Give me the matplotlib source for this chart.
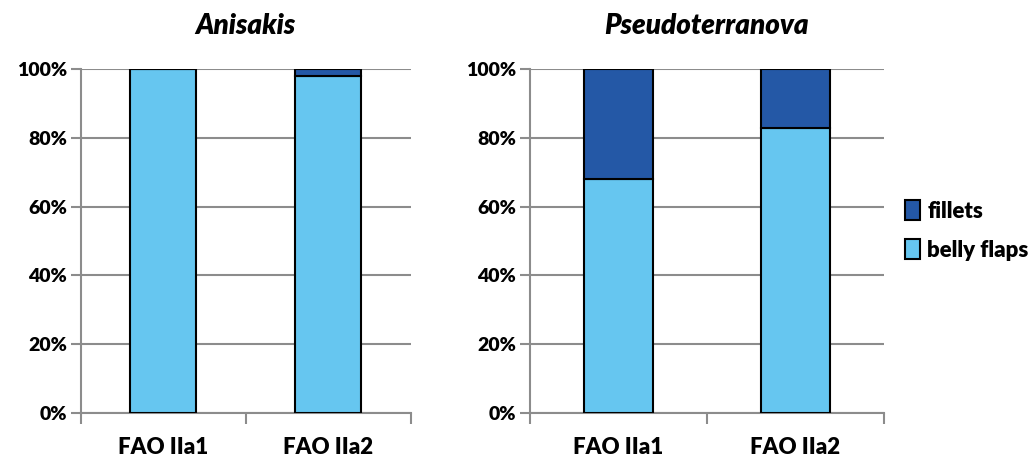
import matplotlib.pyplot as plt
from matplotlib.ticker import PercentFormatter

# data (percent of larvae)
regions = ['FAO IIa1', 'FAO IIa2']
anisakis_belly = [100, 98]
anisakis_fillets = [0, 2]
pseudo_belly = [68, 83]
pseudo_fillets = [32, 17]

light_blue = '#66C6F0'
dark_blue = '#2458A6'
grid_grey = '#8C8C8C'

plt.rcParams['font.family'] = ['Lato', 'DejaVu Sans']
plt.rcParams['font.weight'] = 'bold'

fig = plt.figure(figsize=(10.35, 4.61), dpi=100)
ax1 = fig.add_axes([0.078, 0.104, 0.319, 0.746])
ax2 = fig.add_axes([0.512, 0.104, 0.342, 0.746])


def draw_panel(ax, belly, fillets, title, width):
    x = range(len(regions))
    ax.bar(x, belly, width=width, color=light_blue, edgecolor='black',
           linewidth=1.5, zorder=3, label='belly flaps')
    ax.bar(x, fillets, bottom=belly, width=width, color=dark_blue,
           edgecolor='black', linewidth=1.5, zorder=3, label='fillets')
    ax.set_ylim(0, 100)
    ax.set_xlim(-0.5, 1.5)
    ax.set_yticks(range(0, 101, 20))
    ax.yaxis.set_major_formatter(PercentFormatter(decimals=0))
    ax.grid(axis='y', color=grid_grey, linewidth=1.5, zorder=0)
    ax.set_axisbelow(True)
    ax.set_xticks([-0.5, 0.5, 1.5])
    ax.set_xticklabels([])
    ax.set_xticks(list(x), minor=True)
    ax.set_xticklabels(regions, minor=True, fontsize=16, fontweight='heavy')
    ax.tick_params(axis='x', which='minor', length=0, pad=17)
    ax.tick_params(axis='x', which='major', length=8, width=1.5, color=grid_grey)
    ax.tick_params(axis='y', length=7, width=1.5, color=grid_grey, labelsize=14, pad=3)
    for lbl in ax.get_yticklabels():
        lbl.set_fontweight('heavy')
    for side in ['top', 'right']:
        ax.spines[side].set_visible(False)
    for side in ['left', 'bottom']:
        ax.spines[side].set_color(grid_grey)
        ax.spines[side].set_linewidth(1.5)
    ax.set_title(title, fontsize=20, fontweight='heavy', style='italic', pad=25)


draw_panel(ax1, anisakis_belly, anisakis_fillets, 'Anisakis', 0.4)
draw_panel(ax2, pseudo_belly, pseudo_fillets, 'Pseudoterranova', 0.39)

handles, labels = ax2.get_legend_handles_labels()
fig.legend(handles[::-1], labels[::-1], loc='center left', bbox_to_anchor=(0.855, 0.5),
           frameon=False, prop={'size': 16, 'weight': 'heavy'},
           handlelength=0.7, handleheight=1.0, handletextpad=0.3, labelspacing=0.8)

fig.savefig('out.png', dpi=100)
